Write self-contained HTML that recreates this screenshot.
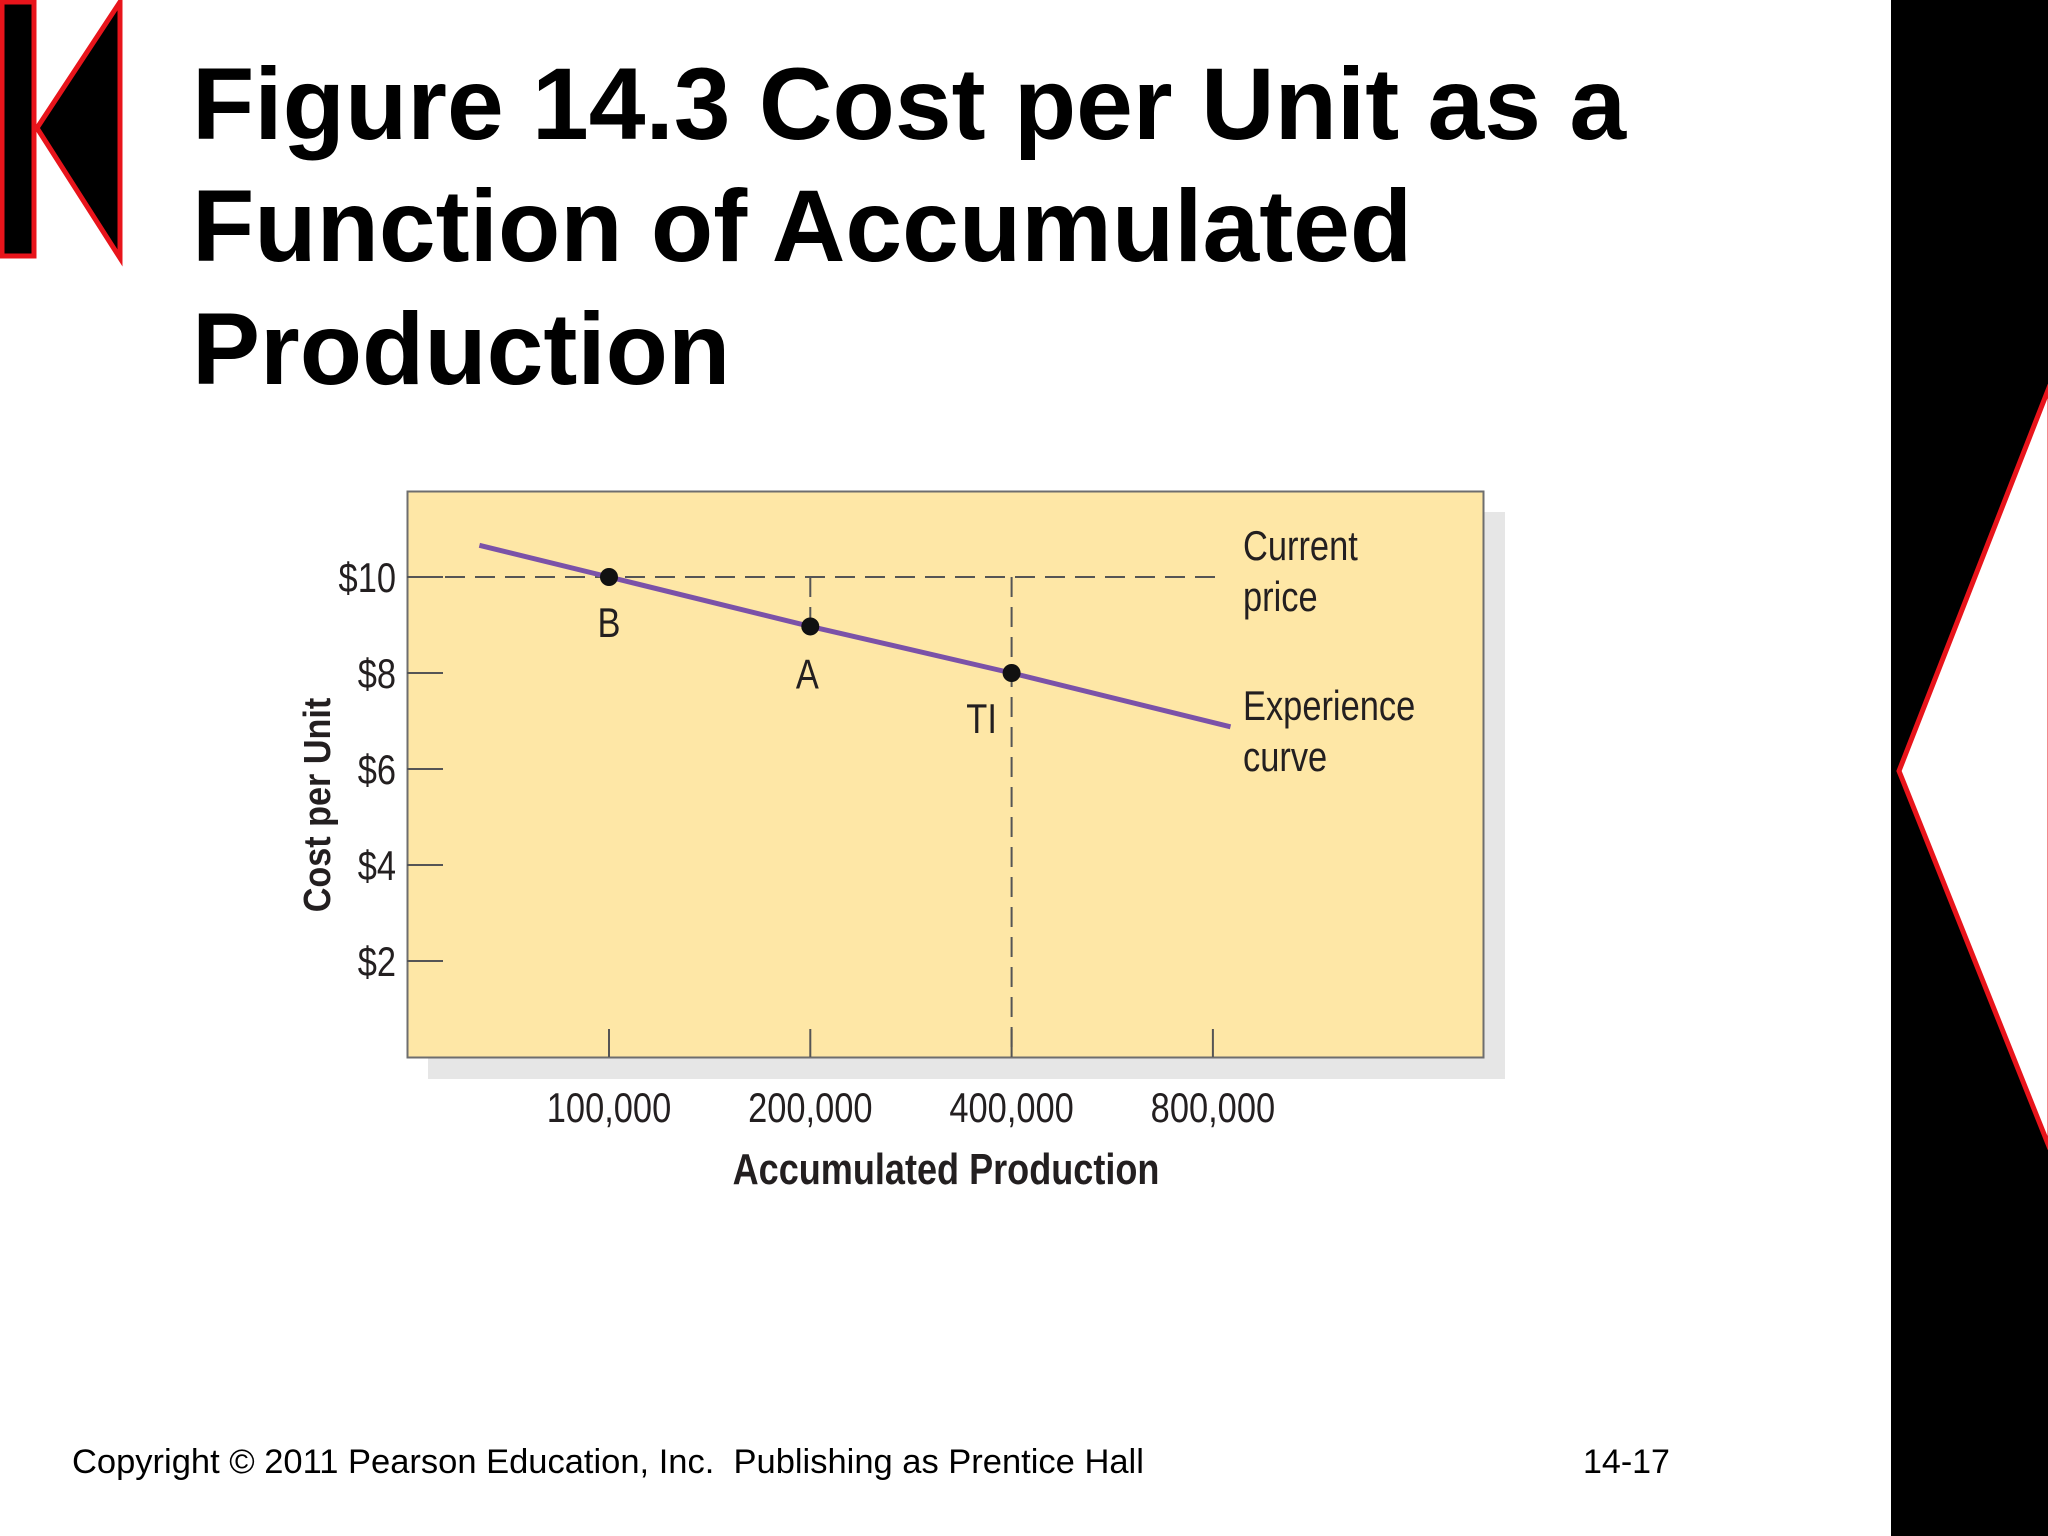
<!DOCTYPE html>
<html><head><meta charset="utf-8">
<style>
html,body{margin:0;padding:0;background:#fff;}
body{width:2048px;height:1536px;overflow:hidden;position:relative;font-family:"Liberation Sans",Arial,sans-serif;}
svg{position:absolute;left:0;top:0;}
</style></head>
<body>
<svg id="slide" width="2048" height="1536" viewBox="0 0 2048 1536" xmlns="http://www.w3.org/2000/svg">
  <rect x="2" y="2" width="32" height="254" fill="#000" stroke="#e8141b" stroke-width="5"/>
  <polygon points="120,2 37,128 120,258" fill="#000" stroke="#e8141b" stroke-width="5"/>
  <rect x="1891" y="0" width="157" height="1536" fill="#000"/>
  <polygon points="2050,385 1899,771 2050,1149" fill="#fff" stroke="#e8141b" stroke-width="5"/>

  <g font-family="Liberation Sans, Arial, sans-serif" font-weight="bold" font-size="102" fill="#000">
    <text x="192" y="139">Figure 14.3 Cost per Unit as a</text>
    <text x="192" y="261">Function of Accumulated</text>
    <text x="192" y="384">Production</text>
  </g>

  <rect x="428" y="512" width="1077" height="567" fill="#e6e6e6"/>
  <rect x="407.5" y="491.5" width="1076" height="566" fill="#fee7a6" stroke="#6e6e6e" stroke-width="2"/>
  <g id="chart"></g>

  <text x="72" y="1473" font-size="34.5" fill="#000" xml:space="preserve" style="white-space:pre">Copyright © 2011 Pearson Education, Inc.  Publishing as Prentice Hall</text>
  <text x="1583" y="1473" font-size="34" fill="#000">14-17</text>
</svg>
<script>
const xTickValues = [100000, 200000, 400000, 800000];
const xTickLabels = ["100,000", "200,000", "400,000", "800,000"];
const yTickValues = [2, 4, 6, 8, 10];
const yTickLabels = ["$2", "$4", "$6", "$8", "$10"];
const curveX = [64000, 100000, 200000, 400000, 850000];
const curveY = [10.66, 10, 8.97, 8.0, 6.88];
const pointNames = ["B", "A", "TI"];
const pointX = [100000, 200000, 400000];
const pointY = [10, 8.97, 8.0];
const currentPrice = 10;

const NS = "http://www.w3.org/2000/svg";
const g = document.getElementById("chart");
const panelLeft = 407, panelBottom = 1057;
function xs(v){ return 609 + Math.log2(v/100000) * 201.3; }
function ys(v){ return panelBottom - v * 48; }
function mk(tag, attrs, parent){
  const e = document.createElementNS(NS, tag);
  for (const k in attrs) e.setAttribute(k, attrs[k]);
  (parent||g).appendChild(e);
  return e;
}
function condText(x, y, str, size, anchor, bold){
  const t = mk("text", {transform:`translate(${x},${y}) scale(0.82,1)`, "font-size":size, "text-anchor":anchor, fill:"#231f20", "font-family":"Liberation Sans, Arial, sans-serif"});
  if (bold) t.setAttribute("font-weight","bold");
  t.textContent = str;
  return t;
}

yTickValues.forEach((v,i)=>{
  const y = ys(v);
  const tk = mk("line",{x1:panelLeft,x2:panelLeft+36,y1:y,y2:y,stroke:"#555","stroke-width":2});
  
  
  const t = condText(396, y+15, yTickLabels[i], 42, "end", false);
  
  
});
xTickValues.forEach((v,i)=>{
  const x = xs(v);
  const tk = mk("line",{x1:x,x2:x,y1:panelBottom,y2:panelBottom-28,stroke:"#555","stroke-width":2});
  
  
  const t = condText(x, 1122, xTickLabels[i], 42, "middle", false);
  
  
});

const dash = {stroke:"#555","stroke-width":2,"stroke-dasharray":"20,10",fill:"none"};
const hl = mk("line",Object.assign({x1:415,x2:1225,y1:ys(currentPrice),y2:ys(currentPrice)},dash));


const v1 = mk("line",Object.assign({x1:xs(pointX[1]),x2:xs(pointX[1]),y1:ys(currentPrice),y2:ys(pointY[1])},dash));


const v2 = mk("line",Object.assign({x1:xs(pointX[2]),x2:xs(pointX[2]),y1:ys(currentPrice),y2:panelBottom},dash));



const pts = curveX.map((x,i)=>xs(x).toFixed(1)+","+ys(curveY[i]).toFixed(1)).join(" ");
const pl = mk("polyline",{points:pts,fill:"none",stroke:"#7b52a8","stroke-width":5});



const labelOff = [[0,60],[-3,62],[-30,60]];
pointNames.forEach((n,i)=>{
  const cx = xs(pointX[i]), cy = ys(pointY[i]);
  const c = mk("circle",{cx:cx,cy:cy,r:9,fill:"#111"});
  
  
  const t = condText(cx+labelOff[i][0], cy+labelOff[i][1], n, 42, "middle", false);
  
  
});

[["Current",560],["price",611]].forEach(a=>{
  const t = condText(1243, a[1], a[0], 42, "start", false);
  
  
});
[["Experience",720],["curve",771]].forEach(a=>{
  const t = condText(1243, a[1], a[0], 42, "start", false);
  
  
});

const xt = condText(946, 1184, "Accumulated Production", 44, "middle", true);


const yt = mk("text",{transform:"translate(330,805) rotate(-90) scale(0.9,1)","font-size":38,"font-weight":"bold","text-anchor":"middle",fill:"#231f20","font-family":"Liberation Sans, Arial, sans-serif"});
yt.textContent = "Cost per Unit";


</script>
</body></html>
